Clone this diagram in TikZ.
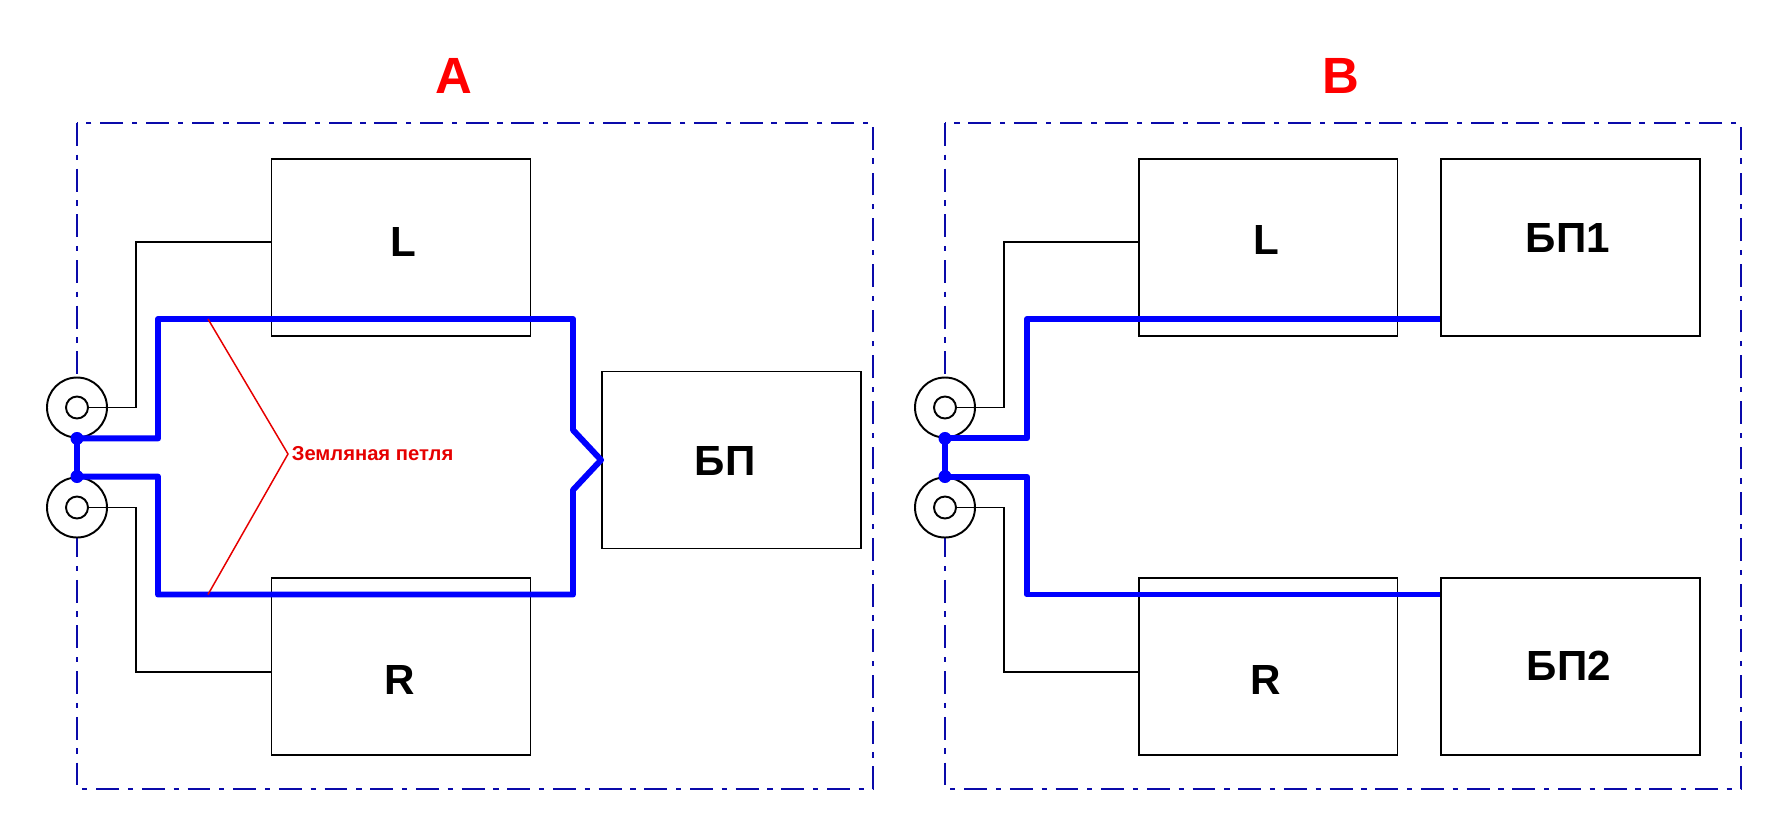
\documentclass[tikz,border=0pt]{standalone}
\usepackage{fontspec}
\setmainfont{Liberation Sans}
\definecolor{framec}{RGB}{10,10,170}
\definecolor{loopc}{RGB}{0,0,255}
\definecolor{notec}{RGB}{230,0,0}

\tikzstyle{block} = [draw,line width=1.1pt,minimum width=5.18cm,minimum height=3.54cm,inner sep=0pt]
\tikzstyle{txt} = [inner sep=0pt,font=\fontsize{24}{27}\selectfont\bfseries]
\tikzstyle{jack} = [draw,circle,fill=white,line width=1.1pt,minimum size=1.2cm,inner sep=0pt]
\tikzstyle{pin} = [draw,circle,line width=1.1pt,minimum size=0.44cm,inner sep=0pt]
\tikzstyle{wire} = [line width=1.1pt]
\tikzstyle{gnd} = [draw=loopc,line width=3.4pt,line join=round]
\tikzstyle{dot} = [circle,fill=loopc,minimum size=0.26cm,inner sep=0pt]
\tikzstyle{frame} = [draw=framec,line width=1.1pt,dash pattern=on 13pt off 5pt on 3pt off 5pt]
\tikzstyle{title} = [text=red,font=\fontsize{29}{32}\selectfont\bfseries]
\tikzstyle{note} = [text=notec,font=\fontsize{11.5}{13}\selectfont\bfseries,anchor=west,inner sep=2pt]

\begin{document}
\begin{tikzpicture}[x=0.02cm,y=-0.02cm]
	\useasboundingbox (0,0) rectangle (1789,839);
	\draw[frame] (77,123) rectangle (873,789);
	\draw[frame] (945,123) rectangle (1741,789);
	\node[title] (ta) at (454,76) {A};
	\node[title] (tb) at (1341,76) {B};

	\node[block] (la) at (401,247.6) {};
	\node[block] (ra) at (401,666.8) {};
	\node[block] (pa) at (731.5,460) {};
	\node[block] (lb) at (1268,247.6) {};
	\node[block] (rb) at (1268,666.8) {};
	\node[block] (pb1) at (1570.5,247.6) {};
	\node[block] (pb2) at (1570.5,666.8) {};
	\node[txt] (lat) at (403,242) {L};
	\node[txt] (rat) at (400,680) {R};
	\node[txt] (pat) at (725,460.5) {БП};
	\node[txt] (lbt) at (1266,240) {L};
	\node[txt] (rbt) at (1266,680) {R};
	\node[txt] (pb1t) at (1568,237.5) {БП1};
	\node[txt] (pb2t) at (1569,666) {БП2};

	\node[jack] (ja1) at (77,407.5) {};
	\node[jack] (ja2) at (77,507.5) {};
	\node[pin] (pa1) at (ja1) {};
	\node[pin] (pa2) at (ja2) {};
	\node[jack] (jb1) at (945,407.5) {};
	\node[jack] (jb2) at (945,507.5) {};
	\node[pin] (pb1in) at (jb1) {};
	\node[pin] (pb2in) at (jb2) {};

	\coordinate (wa1) at (136,242);
	\coordinate (wa2) at (136,672);
	\coordinate (wb1) at (1004,242);
	\coordinate (wb2) at (1004,672);
	\draw[wire] (pa1.east) -| (wa1) -- (wa1 -| la.west);
	\draw[wire] (pa2.east) -| (wa2) -- (wa2 -| ra.west);
	\draw[wire] (pb1in.east) -| (wb1) -- (wb1 -| lb.west);
	\draw[wire] (pb2in.east) -| (wb2) -- (wb2 -| rb.west);

	\draw[gnd] (ja1.south) -- (ja2.north);
	\draw[gnd] (ja1.south) -| (158,319) -- (573,319) -- (573,430) -- (pa.west) -- (573,490) -- (573,594.5) -- (158,594.5) |- (ja2.north);
	\draw[gnd] (jb1.south) -- (jb2.north);
	\draw[gnd] (jb1.south) -| (1027,319) -- (pb1.west |- 0,319);
	\draw[gnd] (jb2.north) -| (1027,594.5) -- (pb2.west |- 0,594.5);
	\node[dot] (da1) at (ja1.south) {};
	\node[dot] (da2) at (ja2.north) {};
	\node[dot] (db1) at (jb1.south) {};
	\node[dot] (db2) at (jb2.north) {};

	\coordinate (apex) at (288,454);
	\coordinate (nt) at (208,319);
	\coordinate (nb) at (208,594.5);
	\node[note] (lbl) at (apex) {Земляная петля};
	\draw[notec,line width=0.85pt] (nt) -- (apex) -- (nb);
\end{tikzpicture}
\end{document}
